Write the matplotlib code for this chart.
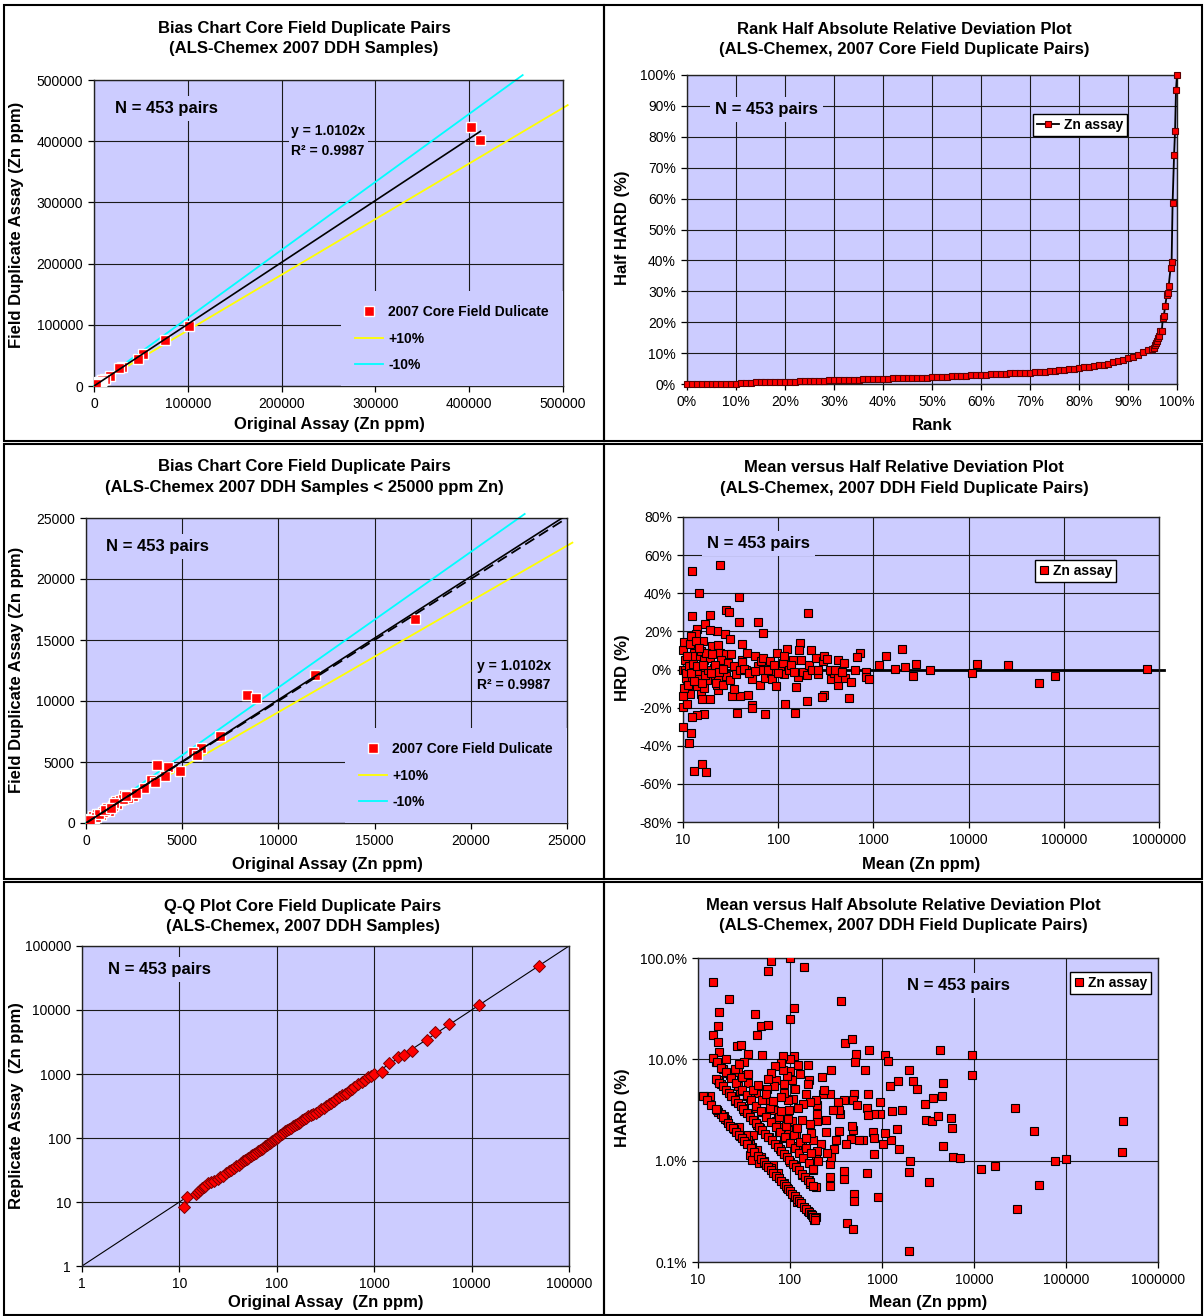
import numpy as np
import matplotlib
matplotlib.use("Agg")
import matplotlib.pyplot as plt
from matplotlib.patches import Rectangle

plt.rcParams["font.family"] = ["Liberation Sans", "DejaVu Sans"]

W, H = 1204, 1316
LAV = "#CCCCFF"

# ---------------- data ----------------
# bias chart pairs: (original, field duplicate) Zn ppm
bias_points = [
    (402400, 422600), (411800, 402400), (100900, 98100), (75500, 75200), (52100, 52900),
    (46800, 44700), (30000, 30500), (26300, 29400),
    (17100, 16750), (11900, 12100), (8380, 10490), (8840, 10220), (6980, 7160), (5960, 6120),
    (5540, 5820), (5780, 5550), (4880, 4290), (4240, 4590), (3700, 4750), (4100, 3880),
    (3380, 3500), (3580, 3330), (3040, 2870), (2440, 2240), (1980, 2300), (2200, 2080),
    (1540, 1800), (1600, 1560), (1200, 980), (800, 660), (440, 410), (140, 190), (40, 55),
    (340, 546), (580, 740), (900, 930), (1100, 1230), (1380, 1420), (1780, 1860), (1900, 1970),
    (1480, 1640), (280, 330), (500, 490), (700, 710), (980, 1040), (180, 140), (100, 60),
    (60, 90), (220, 250), (1300, 1200), (2100, 2200), (2600, 2500),
]
p1_trend = ([0, 412000], [0, 416200])
p1_plus10 = ([0, 505000], [0, 459000])
p1_minus10 = ([0, 457000], [0, 508000])
p3_trend = ([0, 25000], [0, 25255])
p3_one2one = ([0, 25000], [0, 25000])
p3_plus10 = ([0, 25280], [0, 22980])
p3_minus10 = ([0, 22800], [0, 25330])

# rank plot: rank (%) and half HARD (%)
rank_pct = [0, 1, 2, 3, 4, 5, 6, 7, 8, 9, 10, 11, 12, 13, 14, 15, 16, 17, 18, 19,
            20, 21, 22, 23, 24, 25, 26, 27, 28, 29, 30, 31, 32, 33, 34, 35, 36, 37, 38, 39,
            40, 41, 42, 43, 44, 45, 46, 47, 48, 49, 50, 51, 52, 53, 54, 55, 56, 57, 58, 59,
            60, 61, 62, 63, 64, 65, 66, 67, 68, 69, 70, 71, 72, 73, 74, 75, 76, 77, 78, 79,
            80, 81, 82, 83, 84, 85, 86, 87, 88, 89, 90, 91, 92, 93, 94,
            94.8, 95.3, 95.5, 95.7, 95.9, 96.1, 96.3, 96.6, 96.9, 97.1, 97.3, 97.6, 97.9,
            98.1, 98.3, 98.7, 98.9, 99.1, 99.4, 99.6, 99.8, 100]
rank_hard = [0, 0, 0, 0, 0, 0, 0, 0, 0, 0, 0.1, 0.2, 0.3, 0.4, 0.5, 0.5, 0.6, 0.6, 0.7, 0.7,
             0.7, 0.8, 0.8, 0.9, 0.9, 1.0, 1.0, 1.1, 1.1, 1.2, 1.2, 1.2, 1.3, 1.3, 1.4, 1.4, 1.5, 1.5, 1.6, 1.6,
             1.7, 1.7, 1.8, 1.8, 1.9, 1.9, 2.0, 2.0, 2.1, 2.1, 2.2, 2.3, 2.3, 2.4, 2.5, 2.5, 2.6, 2.7, 2.8, 2.9,
             2.9, 3.0, 3.1, 3.2, 3.2, 3.3, 3.4, 3.5, 3.5, 3.6, 3.7, 3.8, 3.9, 4.0, 4.2, 4.3, 4.4, 4.6, 4.7, 4.9,
             5.1, 5.4, 5.6, 5.9, 6.1, 6.3, 6.6, 7.0, 7.4, 7.8, 8.3, 8.8, 9.4, 10.2, 11.0,
             11.2, 11.8, 12.5, 13.2, 14.0, 14.8, 15.5, 17.2, 17.3, 21.2, 22.0, 25.3, 28.7,
             29.5, 31.7, 37.7, 39.5, 58.5, 74.0, 81.8, 95.3, 100]

# mean vs half relative deviation: (mean ppm, HRD %)
hrd_points = [
    (12.4, 51.9), (24.3, 55.0), (14.9, 39.9), (38.3, 37.8), (12.4, 28.0), (19.3, 28.5), (28.0, 31.0),
    (30.4, 30.0), (206, 29.4), (38.3, 24.7), (60.8, 24.7), (68.7, 19.2), (27.4, 18.7), (16.9, 24.0),
    (14.1, 21.5), (23.0, 20.0), (19.0, 20.8), (30.9, 16.0), (16.3, 15.2), (13.6, 18.4), (41.6, 13.3),
    (169, 13.8), (125, 11.0), (219, 10.1), (164, 10.1), (1995, 11.0), (1355, 7.3), (728, 8.7),
    (676, 6.8), (1148, 2.3), (1690, 0.3), (2153, 1.2), (2792, 3.1), (2594, -3.3), (3890, -0.5),
    (10965, -1.6), (12150, 3.1), (26240, 2.3), (55000, -7.2), (81000, -3.3), (757000, 0.3),
    (552, -14.9), (302, -13.6), (288, -14.5), (199, -16.6), (119, -18.2), (150, -22.7), (73, -23.6),
    (52.5, -18.7), (52.5, -20.3), (48.3, -13.6), (40.1, -13.8), (37.3, -22.7), (32.4, -13.8),
    (34.6, -10.1), (16.8, -23.3), (14.2, -24.0), (12.3, -24.8), (12.1, -33.2), (11.7, -38.8),
    (10.0, -30.1), (10.0, -19.8), (16.0, -49.8), (13.0, -53.5), (17.3, -54.0), (10.9, -18.0),
    (11.9, -13.1), (15.3, -13.1), (15.9, -15.7), (19.0, -15.6), (14.1, -8.7), (16.7, -9.6),
    (23.2, -10.8), (23.0, -7.9), (10.3, -9.6), (10.0, -14.0), (10.7, -4.4), (10.0, 0.0), (12.4, -3.8),
    (10.5, 4.9), (10.0, 10.1), (10.3, 14.3), (11.8, 13.5), (12.1, 17.5), (13.6, 14.9), (13.0, 8.7),
    (14.2, 7.3), (15.3, 9.6), (16.5, 5.2), (19.0, 6.1), (20.4, 12.2), (23.2, 13.1), (24.5, 8.7),
    (28.4, 7.9), (32.0, 7.9), (24.8, 5.1), (30.0, 3.5), (34.2, 1.7), (28.0, -3.3), (21.4, -3.3),
    (23.5, -5.2), (18.0, -5.6), (15.6, -1.7), (13.2, 0.0), (21.0, 0.9), (42.0, 5.2), (41.3, 3.8),
    (46.7, 8.7), (46.0, 0.0), (52.5, -5.2), (57.0, 7.0), (60.8, 1.7), (65.5, 4.4), (68.7, 6.1),
    (64.7, -8.2), (69.8, 0.0), (72.0, -4.4), (82.5, 4.4), (84.7, -1.7), (87.0, -5.2), (95.5, -8.6),
    (96.6, 8.7), (104, 1.7), (112, 3.5), (116, -2.6), (114, 7.0), (131, 0.0), (142, 5.2), (154, -9.4),
    (162, -3.8), (173, 5.2), (181, -1.2), (200, -3.0), (211, 2.4), (247, 6.1), (259, -2.6), (295, 4.4),
    (303, 7.0), (324, 5.6), (357, -5.2), (384, -1.7), (428, 5.2), (425, -8.2), (425, -4.7), (458, -0.3),
    (489, 3.5), (503, -4.7), (577, -6.3), (843, -1.2), (835, -3.8), (908, -5.0), (10.5, 0.0),
    (10.8, -1.7), (11.5, 1.7), (12.6, 3.1), (14.0, -0.9), (14.9, -4.9), (16.0, -7.0), (17.1, -2.8),
    (18.3, 0.0), (19.7, -1.7), (21.6, 2.4), (23.6, -1.4), (26.0, 0.3), (11.3, -7.9), (13.0, -6.1),
    (17.6, 8.7), (20.0, 7.9), (14.9, 11.4), (12.4, 7.0), (11.1, 7.0), (12.1, -1.7), (14.2, 1.7),
    (16.3, 2.6), (22.0, -7.0), (26.0, -7.9), (31.3, -5.6), (36.0, -2.6), (39.3, -0.5), (43.6, 0.3),
    (49.6, -1.7), (56.8, -0.9), (79.0, 0.0), (90.6, 2.1), (99.3, -1.7), (137, 2.3), (148, -1.2),
    (229, 0.0), (262, -0.5), (348, 0.0), (398, 0.0), (473, -1.4), (634, -0.3),
]
zero_line_x = [10, 1130000]

# Q-Q plot: sorted original vs sorted replicate (ppm)
qq_points = [
    (11.2, 8.4), (12, 12), (14.7, 13.5), (15.5, 14.5), (16.1, 15.3), (17, 16.5), (17.9, 17.2),
    (18.5, 18), (19.6, 19.9), (21, 20.5), (22.7, 21.1), (24.7, 22.9), (26, 24.5), (28.3, 25.8),
    (30, 28), (32, 30), (34, 31.3), (36, 33.5), (38, 36), (40.7, 38.4), (43, 41), (45, 43), (47, 45),
    (48.9, 47), (51, 49), (54, 52), (56, 54.9), (58.7, 56), (61, 59), (64, 62), (67, 65), (70.4, 67.3),
    (73, 71), (76, 74), (79, 77), (82, 80), (84.4, 83.4), (87, 86), (90, 89), (93, 92), (96, 96),
    (99.5, 99.8), (103, 104), (108, 110), (112, 114), (117, 120), (122, 127), (128, 132), (134, 138),
    (140, 145), (146, 152), (152, 158), (160, 166), (168, 174), (175, 181), (182, 188), (190, 196),
    (200, 205), (210, 217), (222, 228), (235, 240), (252, 244), (270, 265), (285, 280), (302, 292),
    (320, 315), (340, 336), (362, 358), (385, 380), (410, 405), (435, 434), (470, 462), (500, 495),
    (522, 513), (560, 555), (590, 590), (626, 621), (680, 690), (751, 762), (800, 810), (861, 890),
    (920, 940), (987, 1014), (1216, 1064), (1434, 1469), (1738, 1822), (2011, 2005), (2455, 2287),
    (3470, 3395), (4237, 4571), (5888, 6025), (11870, 12050), (49550, 48200),
]
qq_line = ([1, 100000], [1, 100000])

# mean vs HARD: (mean ppm, HARD %)
hard_points = [
    (101, 100), (62, 92.7), (57.7, 74.5), (142, 81.5), (14.5, 58), (21.7, 39.7), (358, 37.7),
    (16.9, 29.5), (41.6, 28.2), (110, 31.8), (100, 25), (16.6, 21.2), (48.5, 21.3), (57, 22),
    (14.5, 17.4), (43.6, 17.4), (16.6, 14.9), (26.5, 13.5), (29.2, 14), (16.9, 11.8), (35, 11.2),
    (49.4, 11), (15.7, 9.5), (398, 14.5), (473, 15.9), (521, 11.2), (721, 12.3), (1077, 11),
    (1175, 9.6), (4276, 12.3), (9460, 11), (9550, 7), (1987, 7.9), (2146, 6.1), (1493, 6.1),
    (1221, 5.5), (4614, 5.8), (2383, 5.1), (2914, 3.65), (3565, 4.2), (4487, 4.3), (3030, 2.54),
    (3500, 2.46), (4040, 2.78), (5640, 2.62), (5700, 2.12), (4614, 1.4), (5970, 1.09), (7100, 1.06),
    (2010, 1.0), (1970, 0.77), (3270, 0.61), (1970, 0.127), (11900, 0.83), (16800, 0.89),
    (27600, 3.28), (45400, 1.96), (75500, 1.0), (100500, 1.03), (51400, 0.58), (29500, 0.33),
    (419000, 2.44), (410000, 1.21),
    (1640, 3.16), (1280, 3.09), (1462, 2.07), (1520, 1.31), (1245, 1.61), (1067, 1.87), (1027, 1.45),
    (942, 3.82), (942, 2.87), (824, 2.9), (907, 0.44), (800, 1.9), (824, 1.68), (824, 1.16),
    (708, 4.58), (694, 3.34), (708, 2.8), (661, 7.8), (687, 0.75), (500, 0.47), (500, 0.4),
    (618, 1.59), (568, 1.59), (482, 1.99), (473, 2.18), (421, 0.24), (486, 0.21), (391, 0.66),
    (391, 0.79), (460, 1.63), (402, 1.45), (345, 1.96), (348, 2.91), (391, 3.94), (332, 3.79),
    (345, 3.19), (515, 9.4), (492, 4.58), (482, 3.94), (530, 3.51), (274, 0.69), (269, 0.56),
    (274, 0.92), (282, 1.09), (298, 1.31), (313, 1.59), (290, 3.14), (279, 7.9), (274, 4.58),
    (244, 1.92), (247, 2.5), (229, 4.58), (224, 6.7), (233, 4.94), (251, 1.19), (216, 1.47),
    (198, 2.46), (198, 2.91), (198, 3.57), (194, 3.94), (196, 1.24), (194, 1.05), (190, 0.55),
    (183, 0.26), (190, 0.28), (180, 0.8), (165, 0.59), (160, 0.64), (157, 0.32), (177, 1.59),
    (168, 1.89), (164, 2.32), (160, 6.2), (157, 5.66), (155, 8.7), (165, 3.79), (149, 4.58),
    (140, 3.6), (136, 2.5), (134, 1.45), (134, 0.73), (126, 1.26), (121, 3.31), (128, 7.2),
    (123, 8.7), (111, 10.8), (114, 5.06), (108, 4.03), (104, 6.2), (100, 10), (101, 7.6),
    (111, 2.07), (115, 1.78), (118, 1.38), (116, 0.89), (111, 0.44), (118, 0.39), (101, 0.97),
    (104, 2.46), (96.6, 3.14), (95.7, 3.94), (94.9, 1.99), (92, 0.54), (93, 6.85), (86.9, 4.69),
    (85.3, 5.75), (83.7, 7.9), (82.9, 10.9), (86.9, 1.69), (86, 1.17), (86.9, 0.6), (80.5, 2.15),
    (79.8, 4.25), (79.8, 9.2), (74.6, 2.91), (77.5, 1.3), (73.2, 0.76), (75.3, 1.92), (71.1, 2.46),
    (70.4, 6.3), (69.2, 8.5), (67.2, 3.14), (67.2, 5.5), (65.3, 0.9), (62.8, 0.85), (62.2, 7.3),
    (59.9, 3.88), (58.7, 1.71), (57, 6.4), (56, 5.1), (52.4, 3.02), (52.4, 1.0), (49, 1.09),
    (50.6, 3.0), (47.1, 2.12), (44, 2.23), (44, 1.26), (42.8, 3.33), (42.4, 4.66), (44.5, 5.4),
    (40.5, 2.5), (39.3, 1.78), (38.5, 1.36), (36.7, 1.47), (35, 1.59), (33.1, 1.78), (34.7, 5.9),
    (34.4, 4.3), (36.4, 4.2), (31.8, 3.3), (31.8, 3.09), (31.8, 9.4), (29.5, 6.95), (28.7, 4.87),
    (27.3, 5.4), (28.9, 1.74), (28.1, 2.15), (27.1, 7.55), (25.1, 3.85), (24.8, 2.07), (23.2, 4.35),
    (22.1, 7.0), (21.1, 7.33), (20.5, 2.5), (19.7, 2.6), (19.0, 2.74), (18.6, 7.96), (17.8, 5.66),
    (17.1, 6.07), (16.4, 6.3), (16.6, 3.05), (17.8, 2.91), (16.0, 3.14), (13.5, 4.3), (11.5, 4.3),
    (36.4, 1.13), (39, 1.02), (46.3, 0.95),
    (11.4, 4.39), (12.5, 4.0), (14, 3.57), (15.5, 3.23), (18.5, 2.7), (21, 2.38), (22.5, 2.22),
    (24, 2.08), (26, 1.92), (28, 1.79), (30, 1.67), (32, 1.56), (34, 1.47), (38, 1.32), (41, 1.22),
    (45, 1.11), (48, 1.04), (52, 0.96), (55, 0.91), (58, 0.86), (62, 0.81), (66, 0.76), (70, 0.71),
    (75, 0.67), (80, 0.63), (85, 0.59), (90, 0.56), (95, 0.53), (100, 0.5), (106, 0.47), (112, 0.45),
    (118, 0.42), (125, 0.4), (133, 0.38), (142, 0.35), (150, 0.33), (160, 0.31), (168, 0.3),
    (175, 0.29), (180, 0.28), (185, 0.27), (188, 0.26),
    (15.7, 6.37), (17, 5.9), (18.5, 5.4), (20, 5.0), (21.5, 4.65), (23, 4.35), (25, 4.0), (27, 3.7),
    (29, 3.45), (31, 3.23), (34, 2.94), (37, 2.7), (40, 2.5), (43, 2.33), (46, 2.17), (50, 2.0),
    (54, 1.85), (58, 1.72), (63, 1.59), (68, 1.47), (74, 1.35), (80, 1.25), (86, 1.16), (92, 1.09),
    (98, 1.02), (108, 0.93), (116, 0.86), (125, 0.8), (135, 0.74), (145, 0.69), (155, 0.65),
    (165, 0.61), (177, 0.56),
    (14.6, 10.3), (16, 9.4), (18, 8.3), (20, 7.5), (23, 6.5), (26, 5.8), (30, 5.0), (34, 4.4),
    (38, 3.95), (43, 3.5), (48, 3.1), (55, 2.7), (62, 2.4), (70, 2.14), (78, 1.92), (88, 1.7),
    (100, 1.5), (112, 1.34), (125, 1.2), (140, 1.07), (160, 0.94), (180, 0.83),
    (20, 10), (25, 8), (30, 6.7), (40, 5), (50, 4), (60, 3.3), (75, 2.7), (90, 2.2), (110, 1.8),
    (130, 1.54), (150, 1.33), (170, 1.18), (200, 1.0),
    (28, 8.9), (35, 7.1), (45, 5.6), (55, 4.5), (65, 3.85), (80, 3.1), (95, 2.6), (120, 2.1), (150, 1.67),
]

# tick values / labels
bias1_ticks = [0, 100000, 200000, 300000, 400000, 500000]
bias3_ticks = [0, 5000, 10000, 15000, 20000, 25000]
pct_ticks = [0, 10, 20, 30, 40, 50, 60, 70, 80, 90, 100]
hrd_ticks = [-80, -60, -40, -20, 0, 20, 40, 60, 80]
log_ticks_10 = [10, 100, 1000, 10000, 100000, 1000000]
log_ticks_1 = [1, 10, 100, 1000, 10000, 100000]
hard_ticks = [0.1, 1, 10, 100]
hard_labels = ["0.1%", "1.0%", "10.0%", "100.0%"]

titles = [
    "Bias Chart Core Field Duplicate Pairs\n(ALS-Chemex 2007 DDH Samples)",
    "Rank Half Absolute Relative Deviation Plot\n(ALS-Chemex, 2007 Core Field Duplicate Pairs)",
    "Bias Chart Core Field Duplicate Pairs\n(ALS-Chemex 2007 DDH Samples < 25000 ppm Zn)",
    "Mean versus Half Relative Deviation Plot\n(ALS-Chemex, 2007 DDH Field Duplicate Pairs)",
    "Q-Q Plot Core Field Duplicate Pairs\n(ALS-Chemex, 2007 DDH Samples)",
    "Mean versus Half Absolute Relative Deviation Plot\n(ALS-Chemex, 2007 DDH Field Duplicate Pairs)",
]
n_label = "N = 453 pairs"
eq_label = "y = 1.0102x\nR\u00b2 = 0.9987"

# ---------------- helpers ----------------
fig = plt.figure(figsize=(W / 100, H / 100), dpi=100)


def rect(x0, y0, x1, y1):
    return [x0 / W, 1 - y1 / H, (x1 - x0) / W, (y1 - y0) / H]


def ftext(x, y, s, **kw):
    fig.text(x / W, 1 - y / H, s, **kw)


def style(ax):
    ax.set_facecolor(LAV)
    ax.set_axisbelow(True)
    ax.grid(True, which="major", color="#1a1a1a", lw=0.8)
    ax.minorticks_off()
    ax.tick_params(labelsize=10, length=4, width=0.9, direction="out", pad=4,
                   top=False, right=False)
    for s in ax.spines.values():
        s.set_linewidth(1.0)
        s.set_color("#222222")


def ntext(ax, x, y):
    ax.text(x, y, n_label, transform=ax.transAxes, fontsize=12, fontweight="bold",
            ha="left", va="center", zorder=6,
            bbox=dict(boxstyle="square,pad=0.3", fc=LAV, ec="none"))


def bias_panel(ax, pts, trend, plus, minus, ticks, one2one=None):
    style(ax)
    x, y = np.array(pts).T
    ax.plot(plus[0], plus[1], color="#FFFF00", lw=1.3, zorder=2, clip_on=False, label="+10%")
    ax.plot(minus[0], minus[1], color="#00FFFF", lw=1.3, zorder=2, clip_on=False, label="-10%")
    ax.plot(x, y, ls="none", marker="s", ms=6.5, mfc="#FF0000", mec="white", mew=1.0,
            zorder=3, label="2007 Core Field Dulicate")
    if one2one is not None:
        ax.plot(one2one[0], one2one[1], color="black", lw=1.3, ls=(0, (6, 3)), zorder=4)
    ax.plot(trend[0], trend[1], color="black", lw=1.2, zorder=4)
    ax.set_xlim(ticks[0], ticks[-1])
    ax.set_ylim(ticks[0], ticks[-1])
    ax.set_xticks(ticks, [str(t) for t in ticks])
    ax.set_yticks(ticks, [str(t) for t in ticks])
    h, l = ax.get_legend_handles_labels()
    order = [2, 0, 1]
    leg = ax.legend([h[i] for i in order], [l[i] for i in order], loc="lower right",
                    bbox_to_anchor=(1, 0), borderaxespad=0, frameon=True, fancybox=False,
                    facecolor=LAV, edgecolor="none", framealpha=1, borderpad=1.0,
                    labelspacing=0.9, handlelength=2.0, handletextpad=0.4,
                    prop=dict(size=10, weight="bold"))
    leg.set_zorder(5)


def box_legend(ax, anchor, handlelength):
    leg = ax.legend(loc="upper right", bbox_to_anchor=anchor, borderaxespad=0, frameon=True,
                    fancybox=False, facecolor="white", edgecolor="black", framealpha=1,
                    borderpad=0.3, handlelength=handlelength, handletextpad=0.3,
                    prop=dict(size=10, weight="bold"))
    leg.get_frame().set_linewidth(1.0)
    leg.set_zorder(6)


# ---------------- panel 1: bias chart ----------------
ax1 = fig.add_axes(rect(94, 80, 563, 386))
bias_panel(ax1, bias_points, p1_trend, p1_plus10, p1_minus10, bias1_ticks)
ntext(ax1, 0.045, 0.908)
ax1.text(0.421, 0.80, eq_label, transform=ax1.transAxes, fontsize=10, fontweight="bold",
         ha="left", va="center", linespacing=1.5, zorder=6,
         bbox=dict(boxstyle="square,pad=0.2", fc=LAV, ec="none"))

# ---------------- panel 2: rank HARD ----------------
ax2 = fig.add_axes(rect(687, 75, 1177, 384))
style(ax2)
ax2.plot(rank_pct, rank_hard, color="black", lw=1.3, marker="s", ms=4.5, mfc="#FF0000",
         mec="#5a0000", mew=0.8, clip_on=False, zorder=3, label="Zn assay")
ax2.set_xlim(0, 100)
ax2.set_ylim(0, 100)
ax2.set_xticks(pct_ticks, [f"{t}%" for t in pct_ticks])
ax2.set_yticks(pct_ticks, [f"{t}%" for t in pct_ticks])
ntext(ax2, 0.057, 0.887)
box_legend(ax2, (0.898, 0.874), 1.6)

# ---------------- panel 3: bias chart < 25000 ----------------
ax3 = fig.add_axes(rect(86, 518, 567, 823))
bias_panel(ax3, bias_points, p3_trend, p3_plus10, p3_minus10, bias3_ticks, one2one=p3_one2one)
ax3.lines[-1].set_clip_on(True)
ntext(ax3, 0.041, 0.908)
ax3.text(0.812, 0.484, eq_label, transform=ax3.transAxes, fontsize=10, fontweight="bold",
         ha="left", va="center", linespacing=1.5, zorder=6,
         bbox=dict(boxstyle="square,pad=0.25", fc=LAV, ec="none"))

# ---------------- panel 4: mean vs HRD ----------------
ax4 = fig.add_axes(rect(683, 517, 1159, 822))
style(ax4)
ax4.set_xscale("log")
hx, hy = np.array(hrd_points).T
ax4.plot(zero_line_x, [0, 0], color="black", lw=2.0, clip_on=False, zorder=2)
ax4.plot(hx, hy, ls="none", marker="s", ms=6, mfc="#FF0000", mec="black", mew=0.8,
         clip_on=False, zorder=3, label="Zn assay")
ax4.set_xlim(10, 1000000)
ax4.set_ylim(-80, 80)
ax4.set_xticks(log_ticks_10, [str(t) for t in log_ticks_10])
ax4.set_yticks(hrd_ticks, [f"{t}%" for t in hrd_ticks])
ax4.minorticks_off()
ntext(ax4, 0.05, 0.912)
box_legend(ax4, (0.91, 0.859), 0.7)

# ---------------- panel 5: Q-Q ----------------
ax5 = fig.add_axes(rect(82, 946, 569, 1266))
style(ax5)
ax5.set_xscale("log")
ax5.set_yscale("log")
qx, qy = np.array(qq_points).T
ax5.plot(qq_line[0], qq_line[1], color="black", lw=0.8, zorder=2)
ax5.plot(qx, qy, ls="none", marker="D", ms=6, mfc="#FF0000", mec="#7a0000", mew=0.7, zorder=3)
ax5.set_xlim(1, 100000)
ax5.set_ylim(1, 100000)
ax5.set_xticks(log_ticks_1, [str(t) for t in log_ticks_1])
ax5.set_yticks(log_ticks_1, [str(t) for t in log_ticks_1])
ax5.minorticks_off()
ntext(ax5, 0.053, 0.928)

# ---------------- panel 6: mean vs HARD ----------------
ax6 = fig.add_axes(rect(698, 958, 1158, 1262))
style(ax6)
ax6.set_xscale("log")
ax6.set_yscale("log")
ax_, ay_ = np.array(hard_points).T
ax6.plot(ax_, ay_, ls="none", marker="s", ms=6, mfc="#FF0000", mec="black", mew=0.8,
         zorder=3, label="Zn assay")
ax6.set_xlim(10, 1000000)
ax6.set_ylim(0.1, 100)
ax6.set_xticks(log_ticks_10, [str(t) for t in log_ticks_10])
ax6.set_yticks(hard_ticks, hard_labels)
ax6.minorticks_off()
ntext(ax6, 0.455, 0.908)
box_legend(ax6, (0.985, 0.954), 0.7)

# ---------------- titles, labels, frames ----------------
title_pos = [(304, 38.5), (904, 39.5), (304, 477), (904, 478), (303, 916.5), (903, 915.5)]
for (tx, ty), t in zip(title_pos, titles):
    ftext(tx, ty, t, ha="center", va="center", fontsize=12, fontweight="bold", linespacing=1.45)

xlabels = [(329, 425, "Original Assay (Zn ppm)"), (932, 426, "Rank"),
           (327, 864, "Original Assay (Zn ppm)"), (921, 864, "Mean (Zn ppm)"),
           (326, 1303, "Original Assay  (Zn ppm)"), (928, 1303, "Mean (Zn ppm)")]
for x, y, s in xlabels:
    ftext(x, y, s, ha="center", va="center", fontsize=12, fontweight="bold")

ylabels = [(17, 225, "Field Duplicate Assay (Zn ppm)"), (622, 228, "Half HARD (%)"),
           (17, 670, "Field Duplicate Assay (Zn ppm)"), (622, 668, "HRD (%)"),
           (17, 1106, "Replicate Assay  (Zn ppm)"), (622, 1108, "HARD (%)")]
for x, y, s in ylabels:
    ftext(x, y, s, ha="center", va="center", fontsize=12, fontweight="bold", rotation=90)

frames = [(4, 5, 604, 441), (604, 5, 1202, 441), (4, 444, 604, 879), (604, 444, 1202, 879),
          (4, 882, 604, 1315), (604, 882, 1202, 1315)]
for x0, y0, x1, y1 in frames:
    fig.add_artist(Rectangle((x0 / W, 1 - y1 / H), (x1 - x0) / W, (y1 - y0) / H,
                             transform=fig.transFigure, fill=False, ec="black", lw=1.5))

fig.savefig("out.png", dpi=100)
plt.close(fig)
